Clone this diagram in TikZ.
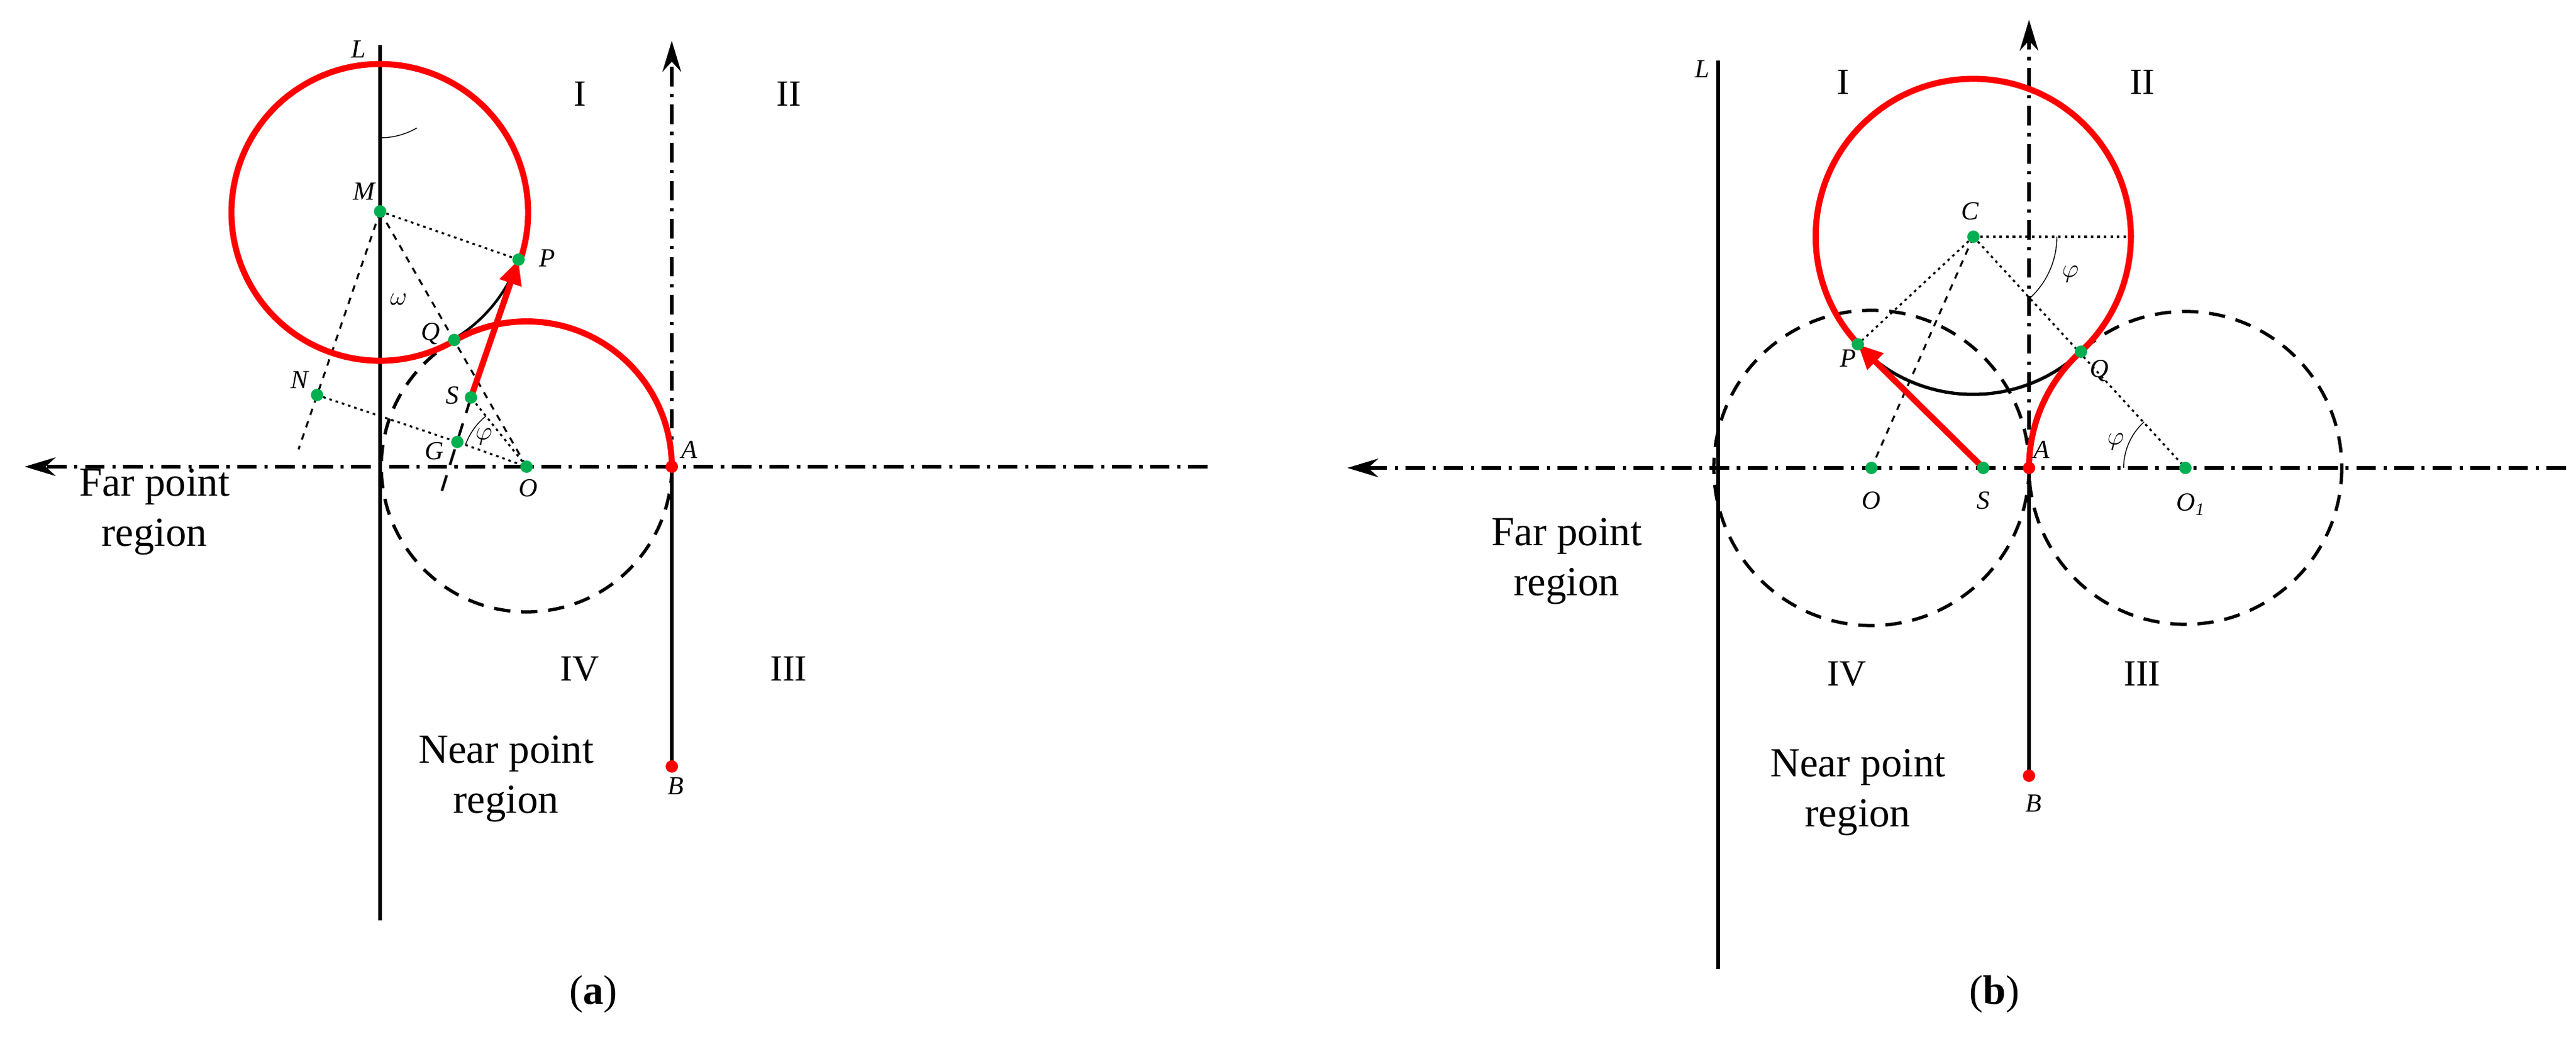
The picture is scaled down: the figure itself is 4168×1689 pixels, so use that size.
\documentclass[tikz,border=0pt]{standalone}
\usepackage{fontspec}
\setmainfont{Liberation Serif}
\usetikzlibrary{arrows.meta}
\definecolor{ptgreen}{RGB}{0,176,80}
\tikzset{
  axis/.style={line width=1.5pt, dash pattern=on 9pt off 3.5pt on 1.5pt off 3.5pt},
  helper/.style={line width=1.5pt, dash pattern=on 7.5pt off 5pt},
  track/.style={red, line width=2.8pt},
  dotline/.style={line width=0.9pt, dash pattern=on 1.2pt off 1.8pt},
  pt/.style={fill=ptgreen},
  lab/.style={font=\fontsize{12}{14}\selectfont\itshape, inner sep=1pt},
  quad/.style={font=\fontsize{17}{20}\selectfont},
  region/.style={font=\fontsize{19}{23}\selectfont, align=center}
}
\begin{document}
\begin{tikzpicture}[x=0.01cm, y=-0.01cm]
\useasboundingbox (0,0) rectangle (4168,1689);

% ---- (a)
\coordinate (Ma) at (615,342);
\coordinate (Oa) at (852,755);
\coordinate (Aa) at (1087,755);
\coordinate (Ba) at (1087,1240);
\coordinate (Pa) at (839,420);
\coordinate (Qa) at (735,550);
\coordinate (Na) at (513,639);
\coordinate (Sa) at (762,643);
\coordinate (Ga) at (740,715);
\coordinate (axLa) at (40,755);
\coordinate (axRa) at (1954,755);
\coordinate (axTa) at (1087,66);
\coordinate (Lta) at (615,73);
\coordinate (Lba) at (615,1489);
\coordinate (Nea) at (483,727);
\coordinate (Gea) at (710,810);

\draw[axis, -{Stealth[length=0.5cm,width=0.3cm]}] (axRa) -- (axLa);
\draw[axis, -{Stealth[length=0.5cm,width=0.3cm]}] (Aa) -- (axTa);
\draw[line width=1.5pt] (Aa) -- (Ba);
\draw[line width=1.5pt] (Lta) -- (Lba);
\draw[helper] (Oa) circle (235);
\draw[dashed, line width=0.9pt] (Ma) -- (Nea);
\draw[dashed, line width=0.9pt] (Ma) -- (Oa);
\draw[helper, line width=1.2pt] (Sa) -- (Gea);
\draw[dotline] (Ma) -- (Pa);
\draw[dotline] (Na) -- (Ga) -- (Oa) -- (Sa);
\draw[line width=1.2pt] (Pa) arc[start angle=19, end angle=60, radius=240];
\draw[track] (Aa) arc[start angle=0, end angle=-120, radius=235]
  arc[start angle=60, end angle=379, radius=240];
\draw[track, -{Triangle[length=0.4cm,width=0.35cm]}] (Sa) -- (Pa);
\draw[thin] ([shift={(-90:119)}]Ma) arc[start angle=90, end angle=60, radius=119];
\draw[thin] ([shift={(-160.3:105)}]Oa) arc[start angle=-160.3, end angle=-128.8, radius=105];
\foreach \p in {Ma,Oa,Pa,Qa,Na,Sa,Ga} \fill[pt] (\p) circle (10);
\fill[red] (Aa) circle (10);
\fill[red] (Ba) circle (10);

\node[lab] (labLa) at (580,80) {L};
\node[lab] (labMa) at (589,310) {M};
\node[lab] (labPa) at (885,418) {P};
\node[lab] (labQa) at (697,540) {Q};
\node[lab] (labNa) at (485,615) {N};
\node[lab] (labSa) at (732,640) {S};
\node[lab] (labGa) at (703,730) {G};
\node[lab] (labOa) at (855,790) {O};
\node[lab] (labAa) at (1115,728) {A};
\node[lab] (labBa) at (1093,1272) {B};
\node[lab] (omega) at (645,484) {$\omega$};
\node[lab] (phia) at (783,707) {$\varphi$};
\node[quad] (q1a) at (938,152) {I};
\node[quad] (q2a) at (1276,152) {II};
\node[quad] (q3a) at (1276,1082) {III};
\node[quad] (q4a) at (938,1082) {IV};
\node[region] (fara) at (250,828) {Far point\\region};
\node[region] (neara) at (819,1260) {Near point\\region};
\node[region] (capa) at (960,1608) {(\textbf{a})};

% ---- (b)
\coordinate (Cb) at (3193,383);
\coordinate (Ob) at (3028,757);
\coordinate (Sb) at (3209,757);
\coordinate (Ab) at (3283,757);
\coordinate (Bb) at (3283,1255);
\coordinate (O1b) at (3536,757);
\coordinate (Qb) at (3367,569);
\coordinate (Pb) at (3006,557);
\coordinate (Hb) at (3448,383);
\coordinate (axLb) at (2180,757);
\coordinate (axRb) at (4152,757);
\coordinate (axTb) at (3283,32);
\coordinate (Ltb) at (2780,98);
\coordinate (Lbb) at (2780,1568);

\draw[axis, -{Stealth[length=0.5cm,width=0.3cm]}] (axRb) -- (axLb);
\draw[axis, -{Stealth[length=0.5cm,width=0.3cm]}] (Ab) -- (axTb);
\draw[line width=1.5pt] (Ab) -- (Bb);
\draw[line width=1.5pt] (Ltb) -- (Lbb);
\draw[helper] (Ob) circle (255);
\draw[helper] (O1b) circle (253);
\draw[dashed, line width=0.9pt] (Cb) -- (Ob);
\draw[dotline] (Cb) -- (Pb);
\draw[dotline] (Cb) -- (Hb);
\draw[dotline] (Cb) -- (O1b);
\draw[line width=1.5pt] (Pb) arc[start angle=-223, end angle=-313, radius=255];
\draw[track] (Ab) arc[start angle=180, end angle=228, radius=253]
  arc[start angle=47, end angle=-223, radius=255];
\draw[track, -{Triangle[length=0.4cm,width=0.35cm]}] (Sb) -- (Pb);
\draw[thin] ([shift={(0:135)}]Cb) arc[start angle=0, end angle=47, radius=135];
\draw[thin] ([shift={(180:100)}]O1b) arc[start angle=180, end angle=228, radius=100];
\foreach \p in {Cb,Ob,Sb,O1b,Qb,Pb} \fill[pt] (\p) circle (10);
\fill[red] (Ab) circle (10);
\fill[red] (Bb) circle (10);

\node[lab] (labLb) at (2754,112) {L};
\node[lab] (labCb) at (3188,342) {C};
\node[lab] (labPb) at (2990,580) {P};
\node[lab] (labQb) at (3397,600) {Q};
\node[lab] (labOb) at (3028,810) {O};
\node[lab] (labSb) at (3209,810) {S};
\node[lab] (labO1b) at (3545,816) {O\textsubscript{1}};
\node[lab] (labAb) at (3303,728) {A};
\node[lab] (labBb) at (3290,1300) {B};
\node[lab] (phib1) at (3350,444) {$\varphi$};
\node[lab] (phib2) at (3423,715) {$\varphi$};
\node[quad] (q1b) at (2982,133) {I};
\node[quad] (q2b) at (3466,133) {II};
\node[quad] (q3b) at (3466,1090) {III};
\node[quad] (q4b) at (2988,1090) {IV};
\node[region] (farb) at (2535,908) {Far point\\region};
\node[region] (nearb) at (3006,1282) {Near point\\region};
\node[region] (capb) at (3227,1608) {(\textbf{b})};
\end{tikzpicture}
\end{document}
